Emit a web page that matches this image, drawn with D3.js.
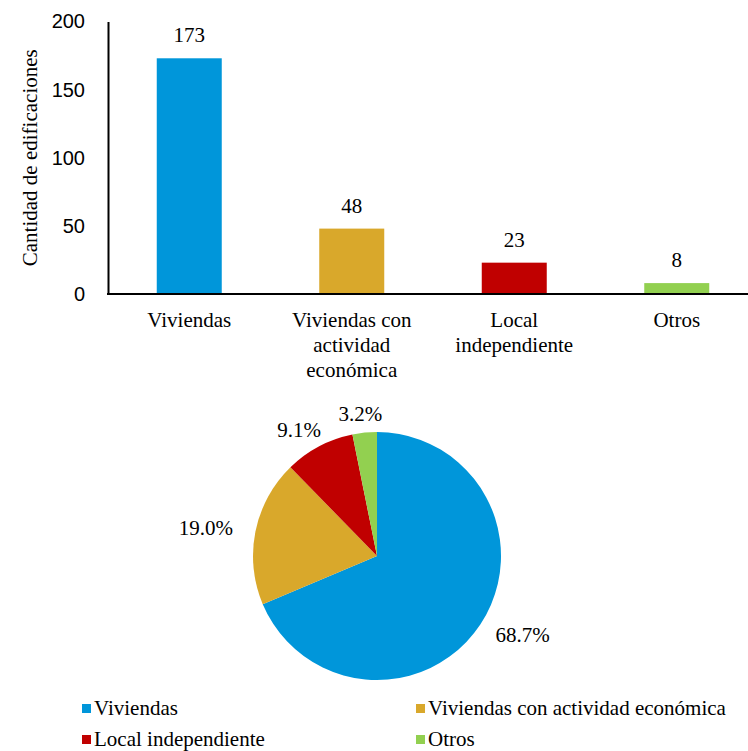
<!DOCTYPE html>
<html>
<head>
<meta charset="utf-8">
<script src="https://cdn.jsdelivr.net/npm/d3@7"></script>
<style>
  body { margin: 0; background: #fff; }
  svg { display: block; }
  .serif { font-family: "Liberation Serif", "Times New Roman", serif; fill: #000; }
  .tick text { font-family: "Liberation Sans", Arial, sans-serif; font-size: 20px; fill: #000; }
</style>
</head>
<body>
<svg id="chart" width="748" height="751"></svg>
<script>
// chart data
const categories = ["Viviendas", "Viviendas con actividad económica", "Local independiente", "Otros"];
const axisLines = [["Viviendas"], ["Viviendas con", "actividad", "económica"], ["Local", "independiente"], ["Otros"]];
const counts = [173, 48, 23, 8];
const colors = ["#0096DA", "#D9A82B", "#C00000", "#92D050"];
const yTicks = [0, 50, 100, 150, 200];
const yTitle = "Cantidad de edificaciones";

const svg = d3.select("#chart");

// ---- bar chart ----
const bar = {left: 108, right: 758, top: 21.5, bottom: 294};

const x = d3.scaleBand()
    .domain(categories)
    .range([bar.left, bar.right])
    .paddingInner(0.6)
    .paddingOuter(0.3);

const y = d3.scaleLinear()
    .domain([0, 200])
    .range([bar.bottom, bar.top]);

const gBar = svg.append("g");

gBar.selectAll("rect")
    .data(counts)
    .enter().append("rect")
    .attr("x", (d, i) => x(categories[i]))
    .attr("y", d => y(d))
    .attr("width", x.bandwidth())
    .attr("height", d => y(0) - y(d))
    .attr("fill", (d, i) => colors[i]);

// value labels above bars
gBar.selectAll("text.value")
    .data(counts)
    .enter().append("text")
    .attr("class", "serif value")
    .attr("x", (d, i) => x(categories[i]) + x.bandwidth() / 2)
    .attr("y", d => y(d) - 16)
    .attr("text-anchor", "middle")
    .attr("font-size", 21)
    .text(d => d);

// y axis
const yAxis = gBar.append("g")
    .attr("transform", `translate(${bar.left},0)`)
    .call(d3.axisLeft(y).tickValues(yTicks).tickSize(0).tickPadding(23));
yAxis.select(".domain").attr("stroke", "#000").attr("stroke-width", 2);

// x axis line
gBar.append("line")
    .attr("x1", bar.left - 1).attr("x2", 748)
    .attr("y1", y(0)).attr("y2", y(0))
    .attr("stroke", "#000").attr("stroke-width", 2);

// category labels, wrapped
const catLabels = gBar.selectAll("text.cat")
    .data(axisLines)
    .enter().append("text")
    .attr("class", "serif cat")
    .attr("text-anchor", "middle")
    .attr("font-size", 21)
    .attr("transform", (d, i) => `translate(${x(categories[i]) + x.bandwidth() / 2},${y(0) + 33})`);
catLabels.selectAll("tspan")
    .data(d => d)
    .enter().append("tspan")
    .attr("x", 0)
    .attr("y", (d, j) => j * 25)
    .text(d => d);

// y axis title
gBar.append("text")
    .attr("class", "serif")
    .attr("font-size", 21)
    .attr("text-anchor", "middle")
    .attr("transform", `translate(37,${(bar.top + bar.bottom) / 2}) rotate(-90)`)
    .text(yTitle);

// ---- pie chart ----
const pieC = [377, 556];
const radius = 124;
const total = d3.sum(counts);

const pie = d3.pie().sort(null).value(d => d);
const arcs = pie(counts);
const arc = d3.arc().innerRadius(0).outerRadius(radius);

const gPie = svg.append("g").attr("transform", `translate(${pieC[0]},${pieC[1]})`);

gPie.selectAll("path")
    .data(arcs)
    .enter().append("path")
    .attr("d", arc)
    .attr("fill", (d, i) => colors[i]);

// percentage labels outside end
const pctLabels = gPie.selectAll("text")
    .data(arcs)
    .enter().append("text")
    .attr("class", "serif")
    .attr("font-size", 21)
    .attr("text-anchor", "middle")
    .attr("dy", "0.35em")
    .text(d => (d.value / total * 100).toFixed(1) + "%");

pctLabels.each(function(d) {
    const a = (d.startAngle + d.endAngle) / 2;
    const sx = Math.sin(a), sy = -Math.cos(a);
    const w = this.getComputedTextLength(), h = 9;
    const r = radius + 10;
    d3.select(this)
        .attr("x", sx * r + sx * w * 0.75)
        .attr("y", sy * r + sy * h);
});

// ---- legend ----
const legendPos = [[82, 704], [416, 704], [82, 735], [416, 735]];
const gLeg = svg.append("g");
const items = gLeg.selectAll("g")
    .data(categories)
    .enter().append("g")
    .attr("transform", (d, i) => `translate(${legendPos[i][0]},${legendPos[i][1]})`);
items.append("rect")
    .attr("width", 9).attr("height", 9)
    .attr("fill", (d, i) => colors[i]);
items.append("text")
    .attr("class", "serif")
    .attr("font-size", 21)
    .attr("x", 12)
    .attr("y", 11)
    .text(d => d);
</script>
</body>
</html>
